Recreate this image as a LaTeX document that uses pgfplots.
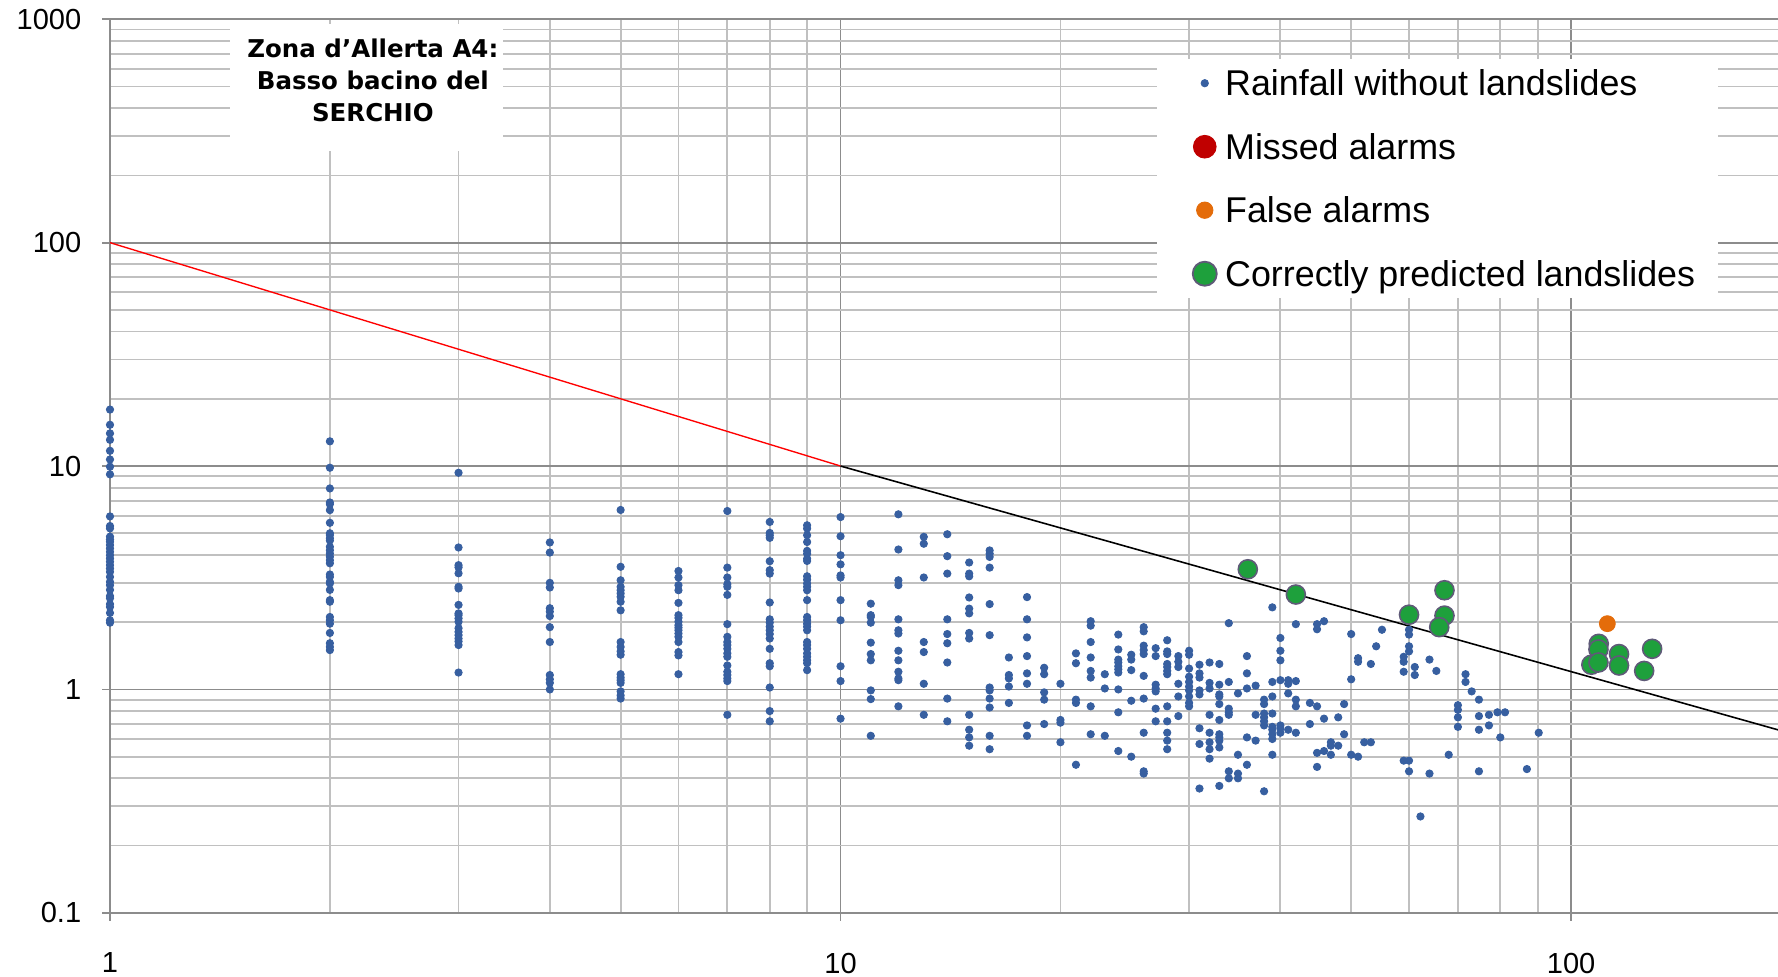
\documentclass[border=0pt]{standalone}
\usepackage{pgfplots}
\pgfplotsset{compat=1.18}
\usepackage{fontspec}
\setmainfont{Liberation Sans}
\newfontfamily\titlefont{DejaVu Sans}
\definecolor{rainblue}{RGB}{55,95,160}
\definecolor{missred}{RGB}{192,0,0}
\definecolor{falseorange}{RGB}{228,108,10}
\definecolor{okgreen}{RGB}{30,160,60}
\definecolor{okedge}{RGB}{95,90,120}
\definecolor{majgrid}{RGB}{140,140,140}
\definecolor{mingrid}{RGB}{192,192,192}
\begin{document}
\begin{tikzpicture}
\begin{axis}[
  at={(0,0)}, anchor=south west,
  scale only axis, width=735.5pt, height=394pt,
  xmode=log, ymode=log,
  xmin=1, xmax=192, ymin=0.1, ymax=1000,
  axis lines=left, axis line style={-, draw=majgrid, line width=0.9pt},
  grid=both,
  major grid style={draw=majgrid, line width=0.8pt},
  minor grid style={draw=mingrid, line width=0.8pt},
  xtick={1,10,100}, xticklabels={1,10,100},
  ytick={0.1,1,10,100,1000}, yticklabels={0.1,1,10,100,1000},
  minor xtick={2,3,4,5,6,7,8,9,20,30,40,50,60,70,80,90},
  minor ytick={0.2,0.3,0.4,0.5,0.6,0.7,0.8,0.9,2,3,4,5,6,7,8,9,20,30,40,50,60,70,80,90,200,300,400,500,600,700,800,900},
  tick align=outside, major tick length=3.5pt, minor tick length=0pt,
  tick style={draw=majgrid, line width=0.8pt},
  ticklabel style={font=\fontsize{12.8}{15}\selectfont},
  yticklabel style={anchor=east, inner sep=0pt, xshift=-9pt},
  xticklabel style={anchor=north, inner sep=0pt, yshift=-14pt},
  legend style={at={(0.6275,0.9556)}, anchor=north west, draw=none, fill=white,
    font=\fontsize{15.8}{18}\selectfont, inner xsep=10pt, inner ysep=0pt,
    row sep=7pt, nodes={inner sep=0pt, text height=16pt, text depth=5pt}},
  legend cell align=left,
  legend image code/.code={\path[draw=none,fill=none] (-11pt,-10.5pt) rectangle (9pt,10.5pt); \draw[#1] plot coordinates {(0pt,0pt)};},
]
\coordinate (SW) at (rel axis cs:0,0);
\coordinate (NE) at (rel axis cs:1,1);
\fill[white] (axis cs:1.46,950) rectangle (axis cs:3.45,256);
\node[font=\titlefont\bfseries\fontsize{10.8}{14}\selectfont, align=center] at (axis cs:2.29,532) {Zona d’Allerta A4:\\Basso bacino del\\SERCHIO};

\addlegendimage{only marks, mark=*, mark size=1.6pt, rainblue}
\addlegendentry{Rainfall without landslides}
\addlegendimage{only marks, mark=*, mark size=5pt, missred}
\addlegendentry{Missed alarms}
\addlegendimage{only marks, mark=*, mark size=3.6pt, falseorange}
\addlegendentry{False alarms}
\addlegendimage{only marks, mark=*, mark size=5.3pt, mark options={fill=okgreen, draw=okedge, line width=0.8pt}}
\addlegendentry{Correctly predicted landslides}

\addplot[forget plot, red, line width=0.6pt] coordinates {(1,100) (10,10)};
\addplot[forget plot, black, line width=0.7pt] coordinates {(10,10) (200,0.635)};

\addplot[forget plot, only marks, mark=*, mark size=1.6pt, rainblue] coordinates {
(1,17.9)(1,15.3)(1,14.0)(1,13.1)(1,11.7)(1,10.7)(1,9.93)(1,9.18)(1,5.95)(1,5.39)(1,5.26)(1,4.83)(1,4.69)(1,4.58)(1,4.43)(1,4.28)(1,4.13)(1,3.99)(1,3.86)(1,3.73)(1,3.60)(1,3.48)(1,3.36)(1,3.19)(1,3.03)(1,2.93)(1,2.79)(1,2.62)(1,2.56)(1,2.41)(1,2.34)(1,2.20)(1,2.04)(1,1.99)
(2,12.9)(2,9.83)(2,7.94)(2,6.87)(2,6.75)(2,6.35)(2,5.57)(2,5.0)(2,4.91)(2,4.75)(2,4.64)(2,4.35)(2,4.2)(2,4.06)(2,3.93)(2,3.79)(2,3.67)(2,3.27)(2,3.19)(2,3.03)(2,2.98)(2,2.79)(2,2.51)(2,2.47)(2,2.11)(2,2.04)(2,1.97)(2,1.79)(2,1.61)(2,1.55)(2,1.50)
(3,9.33)(3,4.32)(3,3.60)(3,3.52)(3,3.31)(3,2.88)(3,2.83)(3,2.39)(3,2.19)(3,2.15)(3,2.08)(3,2.01)(3,1.88)(3,1.81)(3,1.75)(3,1.69)(3,1.64)(3,1.58)(3,1.19)
(4,4.55)(4,4.10)(4,3.0)(4,2.86)(4,2.31)(4,2.23)(4,2.13)(4,1.90)(4,1.63)(4,1.16)(4,1.11)(4,1.07)(4,1.0)
(5,6.36)(5,3.54)(5,3.08)(5,2.88)(5,2.78)(5,2.69)(5,2.60)(5,2.47)(5,2.26)(5,1.63)(5,1.55)(5,1.48)(5,1.43)(5,1.17)(5,1.13)(5,1.10)(5,1.07)(5,0.98)(5,0.94)(5,0.91)
(6,3.39)(6,3.17)(6,2.93)(6,2.78)(6,2.44)(6,2.15)(6,2.09)(6,2.01)(6,1.94)(6,1.89)(6,1.84)(6,1.78)(6,1.72)(6,1.63)(6,1.47)(6,1.42)(6,1.17)
(7,6.29)(7,3.51)(7,3.17)(7,2.96)(7,2.88)(7,2.65)(7,1.96)(7,1.72)(7,1.63)(7,1.58)(7,1.52)(7,1.45)(7,1.40)(7,1.28)(7,1.20)(7,1.16)(7,1.12)(7,1.09)(7,0.77)
(8,5.62)(8,5.02)(8,4.90)(8,4.77)(8,3.75)(8,3.42)(8,3.30)(8,2.45)(8,2.06)(8,1.99)(8,1.91)(8,1.84)(8,1.77)(8,1.69)(8,1.52)(8,1.31)(8,1.27)(8,1.02)(8,0.80)(8,0.72)
(9,5.43)(9,5.25)(9,4.90)(9,4.57)(9,4.17)(9,4.05)(9,3.85)(9,3.76)(9,3.21)(9,3.10)(9,2.98)(9,2.88)(9,2.78)(9,2.51)(9,2.11)(9,2.04)(9,1.97)(9,1.91)(9,1.84)(9,1.63)(9,1.58)(9,1.52)(9,1.45)(9,1.40)(9,1.35)(9,1.31)(9,1.22)
(10,5.91)(10,4.85)(10,3.99)(10,3.63)(10,3.24)(10,3.17)(10,2.51)(10,2.04)(10,1.27)(10,1.09)(10,0.74)
(11,2.42)(11,2.15)(11,2.11)(11,1.99)(11,1.62)(11,1.44)(11,1.35)(11,0.99)(11,0.905)(11,0.62)
(12,6.08)(12,4.23)(12,3.08)(12,2.93)(12,2.06)(12,1.84)(12,1.78)(12,1.49)(12,1.35)(12,1.20)(12,1.12)(12,1.10)(12,0.84)
(13,4.82)(13,4.49)(13,3.17)(13,1.63)(13,1.47)(13,1.06)(13,0.77)
(14,4.95)(14,3.95)(14,3.30)(14,2.06)(14,1.77)(14,1.61)(14,1.32)(14,0.91)(14,0.72)
(15,3.70)(15,3.30)(15,3.21)(15,2.58)(15,2.30)(15,2.19)(15,1.79)(15,1.69)(15,0.77)(15,0.66)(15,0.61)(15,0.56)
(16,4.19)(16,4.05)(16,3.92)(16,3.51)(16,2.41)(16,1.75)(16,1.02)(16,0.99)(16,0.91)(16,0.83)(16,0.62)(16,0.54)
(17,1.39)(17,1.16)(17,1.12)(17,1.03)(17,0.87)
(18,2.59)(18,2.06)(18,1.71)(18,1.41)(18,1.18)(18,1.06)(18,0.69)(18,0.62)
(19,1.25)(19,1.17)(19,0.97)(19,0.90)(19,0.70)
(20,1.06)(20,0.73)(20,0.71)(20,0.58)
(21,1.45)(21,1.31)(21,0.90)(21,0.87)(21,0.46)
(22,2.02)(22,1.93)(22,1.63)(22,1.39)(22,1.21)(22,1.13)(22,0.84)(22,0.63)
(23,1.17)(23,1.01)(23,0.62)
(24,1.76)(24,1.51)(24,1.36)(24,1.32)(24,1.27)(24,1.23)(24,1.19)(24,1.0)(24,0.79)(24,0.53)
(25,1.43)(25,1.36)(25,1.22)(25,0.89)(25,0.50)
(26,1.90)(26,1.82)(26,1.57)(26,1.50)(26,1.44)(26,1.15)(26,0.91)(26,0.64)(26,0.43)(26,0.42)
(27,1.53)(27,1.41)(27,1.05)(27,1.01)(27,0.98)(27,0.82)(27,0.72)
(28,1.66)(28,1.48)(28,1.44)(28,1.30)(28,1.26)(28,1.21)(28,1.17)(28,0.84)(28,0.72)(28,0.64)(28,0.59)(28,0.54)
(29,1.41)(29,1.33)(29,1.26)(29,1.06)(29,0.93)(29,0.76)
(30,1.49)(30,1.43)(30,1.24)(30,1.14)(30,1.08)(30,1.03)(30,0.99)(30,0.93)(30,0.87)(30,0.84)
(31,1.29)(31,1.18)(31,1.13)(31,0.99)(31,0.95)(31,0.67)(31,0.57)(31,0.36)
(32,1.32)(32,1.07)(32,1.01)(32,0.77)(32,0.64)(32,0.58)(32,0.54)(32,0.49)
(33,1.30)(33,1.05)(33,0.95)(33,0.93)(33,0.86)(33,0.73)(33,0.63)(33,0.61)(33,0.59)(33,0.55)(33,0.37)
(34,1.98)(34,1.08)(34,0.82)(34,0.79)(34,0.77)(34,0.43)(34,0.40)
(35,0.96)(35,0.51)(35,0.42)(35,0.40)
(36,1.41)(36,1.18)(36,1.01)(36,0.61)(36,0.46)
(37,1.04)(37,0.77)(37,0.59)
(38,0.90)(38,0.86)(38,0.78)(38,0.75)(38,0.72)(38,0.69)(38,0.35)
(39,2.33)(39,1.08)(39,0.93)(39,0.78)(39,0.68)(39,0.66)(39,0.63)(39,0.60)(39,0.51)
(40,1.70)(40,1.49)(40,1.35)(40,1.10)(40,0.69)(40,0.67)(40,0.64)
(41,1.10)(41,1.06)(41,0.96)(41,0.66)
(42,1.96)(42,1.09)(42,0.90)(42,0.84)(42,0.64)
(43.9,0.87)(43.9,0.70)
(44.9,1.96)(44.9,1.86)(44.9,0.84)(44.9,0.52)(44.9,0.45)
(45.9,2.02)(45.9,0.74)(45.9,0.53)
(46.9,0.58)(46.9,0.56)(46.9,0.51)
(48,0.75)(48,0.56)
(48.9,0.86)(48.9,0.63)
(50,1.77)(50,1.11)(50,0.51)
(51.1,1.38)(51.1,1.33)(51.1,0.50)
(52.1,0.58)
(53.2,1.30)(53.2,0.58)
(54.1,1.56)
(55.1,1.85)
(59,1.40)(59,1.33)(59,1.20)(59,0.48)
(60,1.85)(60,1.76)(60,1.56)(60,1.48)(60,0.48)(60,0.43)
(61.1,1.26)(61.1,1.16)
(62.2,0.27)
(64,1.36)(64,0.42)
(65.4,1.21)
(68,0.51)
(70,0.85)(70,0.81)(70,0.75)(70,0.68)
(71.7,1.17)(71.7,1.08)
(73.1,0.98)
(74.8,0.90)(74.8,0.76)(74.8,0.66)(74.8,0.43)
(77.2,0.77)(77.2,0.69)
(79.3,0.79)
(80,0.61)
(81.2,0.79)
(87,0.44)
(90.3,0.64)
};

\addplot[forget plot, only marks, mark=*, mark size=3.5pt, falseorange] coordinates {(112.1,1.97)};

\addplot[forget plot, only marks, mark=*, mark size=4.2pt, mark options={fill=okgreen, draw=okedge, line width=0.7pt}] coordinates {
(36.1,3.45)(42.0,2.66)(60.0,2.16)(67.1,2.78)(67.1,2.14)(66.0,1.90)
(109.1,1.60)(109,1.51)(106.6,1.29)(109,1.32)(116.3,1.44)(116.3,1.28)(129.1,1.52)(125.9,1.21)
};
\end{axis}
\pgfresetboundingbox
\path[use as bounding box] ([shift={(-48.5pt,-28pt)}]SW) rectangle ([shift={(0pt,8.5pt)}]NE);
\end{tikzpicture}
\end{document}
